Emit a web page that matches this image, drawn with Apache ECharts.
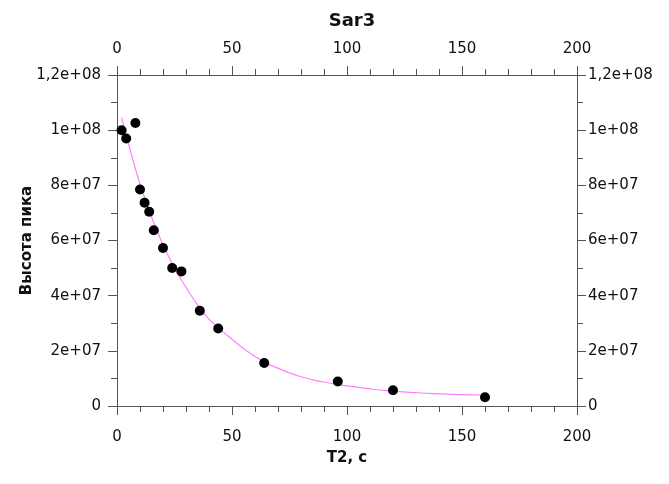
<!DOCTYPE html>
<html>
<head>
<meta charset="utf-8">
<script src="https://cdn.jsdelivr.net/npm/echarts@6/dist/echarts.min.js"></script>
<style>html,body{margin:0;padding:0;background:#fff}#c{width:669px;height:484px}</style>
</head>
<body>
<div id="c"></div>
<script>
// Measured points
var pointX = [2, 4, 8, 10, 12, 14, 16, 20, 24, 28, 36, 44, 64, 96, 120, 160];
var pointY = [1.0e8, 9.7e7, 1.026e8, 7.85e7, 7.37e7, 7.04e7, 6.37e7, 5.73e7, 5.0e7, 4.88e7, 3.45e7, 2.81e7, 1.56e7, 8.9e6, 5.7e6, 3.2e6];
// Fitted curve
var curveX = [2, 5, 10, 15, 20, 25, 30, 36, 40, 45, 50, 56, 64, 72, 80, 90, 100, 110, 120, 135, 150, 160];
var curveY = [1.045e8, 9.5e7, 8.05e7, 6.85e7, 5.85e7, 5.0e7, 4.3e7, 3.55e7, 3.15e7, 2.77e7, 2.42e7, 2.02e7, 1.6e7, 1.3e7, 1.06e7, 8.7e6, 7.3e6, 6.2e6, 5.4e6, 4.6e6, 4.1e6, 3.9e6];
// Tick labels
var yTickValues = [0, 2e7, 4e7, 6e7, 8e7, 1e8, 1.2e8];
var yTickLabels = ['0', '2e+07', '4e+07', '6e+07', '8e+07', '1e+08', '1,2e+08'];
var xTickValues = [0, 50, 100, 150, 200];
var xTickLabels = ['0', '50', '100', '150', '200'];

var chartTitle = 'Sar3';
var xName = 'T2, c';
var yName = 'Высота пика';

function yFmt(v) {
  for (var i = 0; i < yTickValues.length; i++) {
    if (Math.abs(yTickValues[i] - v) < 1) return yTickLabels[i];
  }
  return '';
}
function xFmt(v) {
  var i = xTickValues.indexOf(v);
  return i >= 0 ? xTickLabels[i] : '';
}

var FONT = 'DejaVu Sans';
var axisColor = '#555';
function xAxisCfg(pos, withName) {
  return {
    type: 'value', position: pos, min: 0, max: 200, interval: 50,
    name: withName ? xName : '', nameLocation: 'middle', nameGap: 45, nameMoveOverlap: false,
    nameTextStyle: {fontFamily: FONT, fontSize: 15, fontWeight: 'bold', color: '#111'},
    axisLine: {show: true, onZero: false, lineStyle: {color: axisColor, width: 1}},
    axisTick: {show: true, inside: false, length: 9, lineStyle: {color: axisColor}},
    minorTick: {show: true, splitNumber: 5, length: 6, lineStyle: {color: axisColor}},
    splitLine: {show: false},
    axisLabel: {fontFamily: FONT, fontSize: 15, color: '#111', margin: pos === 'bottom' ? 24 : 18, formatter: xFmt}
  };
}
function yAxisCfg(pos, withName) {
  return {
    type: 'value', position: pos, min: 0, max: 1.2e8, interval: 2e7,
    name: withName ? yName : '', nameLocation: 'middle', nameGap: 82, nameMoveOverlap: false,
    nameTextStyle: {fontFamily: FONT, fontSize: 15, fontWeight: 'bold', color: '#111'},
    axisLine: {show: true, onZero: false, lineStyle: {color: axisColor, width: 1}},
    axisTick: {show: true, inside: false, length: 9, lineStyle: {color: axisColor}},
    minorTick: {show: true, splitNumber: 2, length: 6, lineStyle: {color: axisColor}},
    splitLine: {show: false},
    axisLabel: {fontFamily: FONT, fontSize: 15, color: '#111', margin: pos === 'left' ? 16 : 11, formatter: yFmt}
  };
}

var chart = echarts.init(document.getElementById('c'), null, {renderer: 'canvas'});
chart.setOption({
  backgroundColor: '#fff',
  animation: false,
  title: {
    text: chartTitle, left: 347, top: 7, textAlign: 'center',
    textStyle: {fontFamily: FONT, fontSize: 18, fontWeight: 'bold', color: '#111'}
  },
  grid: {left: 117, right: 92, top: 75, bottom: 78, containLabel: false},
  xAxis: [xAxisCfg('bottom', true), xAxisCfg('top', false)],
  yAxis: [yAxisCfg('left', true), yAxisCfg('right', false)],
  series: [
    {
      type: 'line', xAxisIndex: 0, yAxisIndex: 0, smooth: true, showSymbol: false,
      lineStyle: {color: '#ff80ff', width: 1.2},
      data: curveX.map(function (x, i) { return [x, curveY[i]]; }),
      z: 2
    },
    {
      type: 'scatter', xAxisIndex: 0, yAxisIndex: 0, symbol: 'circle', symbolSize: 10,
      itemStyle: {color: '#000', opacity: 1},
      data: pointX.map(function (x, i) { return [x, pointY[i]]; }),
      z: 3
    }
  ]
});
</script>
</body>
</html>
